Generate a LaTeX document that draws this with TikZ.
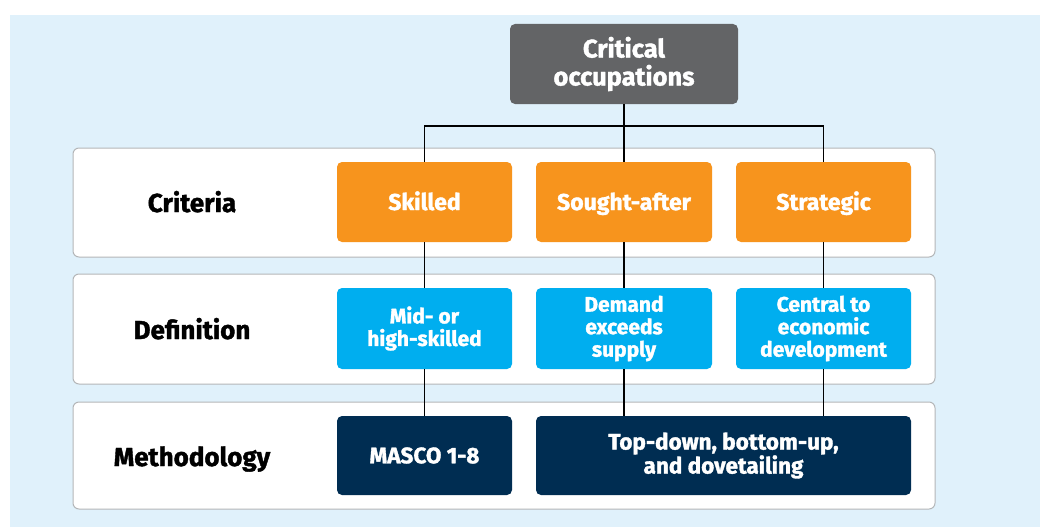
\documentclass[tikz,border=0pt]{standalone}
\usepackage{fontspec}
\setmainfont{Fira Sans}[BoldFeatures={FakeBold=1.5}]
\definecolor{bgblue}{HTML}{E0F1FB}
\definecolor{titlegray}{HTML}{636466}
\definecolor{critorange}{HTML}{F7941D}
\definecolor{defcyan}{HTML}{00AEEF}
\definecolor{methnavy}{HTML}{002D52}
\definecolor{panelline}{HTML}{B4B6B8}
\begin{document}
\begin{tikzpicture}[x=1pt, y=-1pt,
		panel/.style={draw=panelline, line width=1pt, fill=white, rounded corners=6pt, minimum width=862pt, inner sep=0pt},
		box/.style={rounded corners=5pt, text=white, font=\bfseries, align=center, minimum width=175pt, minimum height=80pt, inner sep=0pt},
		crit/.style={box, fill=critorange, text height=16pt, text depth=0pt, font=\fontsize{23}{26}\selectfont\bfseries},
		defn/.style={box, fill=defcyan, font=\fontsize{21}{22.5}\selectfont\bfseries},
		meth/.style={box, fill=methnavy, font=\fontsize{22.5}{24}\selectfont\bfseries},
		rowlabel/.style={text height=18pt, text depth=0pt, font=\fontsize{26}{30}\selectfont\bfseries},
		link/.style={line width=1.3pt, black}]
		\useasboundingbox (0, 0) rectangle (1040, 527);
		\fill[bgblue] (10, 15) rectangle (1040, 527);
		% rows
		\node[panel, minimum height=109pt] (row1) at (504, 202.5) {};
		\node[panel, minimum height=110pt] (row2) at (504, 329) {};
		\node[panel, minimum height=107pt] (row3) at (504, 455.5) {};
		\node[rowlabel] (critlabel) at (192, 203) {Criteria};
		\node[rowlabel] (deflabel) at (192, 330) {Definition};
		\node[rowlabel] (methlabel) at (192, 457) {Methodology};
		% top
		\node[box, fill=titlegray, minimum width=228pt, font=\fontsize{25.5}{28}\selectfont\bfseries] (critical) at (624, 64) {Critical\\occupations};
		% criteria
		\node[crit] (skilled) at (424.5, 202) {Skilled};
		\node[crit, minimum width=176pt] (sought) at (624, 202) {Sought-after};
		\node[crit] (strategic) at (823.5, 202) {Strategic};
		% definition
		\node[defn, minimum height=81pt] (midhigh) at (424.5, 328.5) {Mid- or\\high-skilled};
		\node[defn, minimum height=81pt, minimum width=176pt] (demand) at (624, 328.5) {Demand\\exceeds\\supply};
		\node[defn, minimum height=81pt] (central) at (823.5, 328.5) {Central to\\economic\\development};
		% methodology
		\node[meth, minimum height=79pt] (masco) at (424.5, 455.5) {MASCO 1-8};
		\node[meth, minimum height=79pt, minimum width=375pt] (topdown) at (723.5, 455.5) {Top-down, bottom-up,\\and dovetailing};
		% links
		\coordinate (bus) at (624, 126);
		\draw[link] (critical.south) -- (sought.north);
		\draw[link] (skilled.north) |- (bus) -| (strategic.north);
		\draw[link] (skilled) -- (midhigh);
		\draw[link] (sought) -- (demand);
		\draw[link] (strategic) -- (central);
		\draw[link] (midhigh) -- (masco);
		\draw[link] (demand.south) -- (demand.south |- topdown.north);
		\draw[link] (central.south) -- (central.south |- topdown.north);
	\end{tikzpicture}
\end{document}
